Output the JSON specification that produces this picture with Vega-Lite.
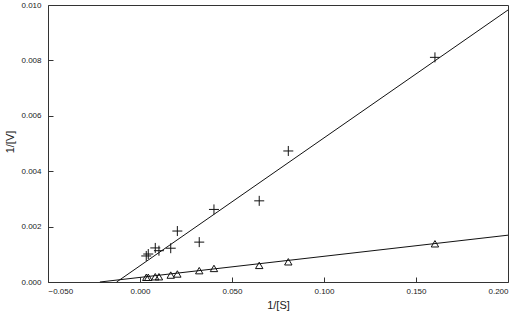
{
  "$schema": "https://vega.github.io/schema/vega-lite/v6.json",
  "width": 460,
  "height": 277,
  "autosize": "none",
  "padding": {"left": 48, "top": 5, "right": 12, "bottom": 33},
  "background": "white",
  "config": {
    "view": {"stroke": "#333", "strokeWidth": 1},
    "font": "Liberation Sans",
    "axis": {
      "grid": false,
      "domain": false,
      "offset": -5,
      "ticks": true,
      "tickColor": "#333",
      "tickWidth": 1,
      "tickSize": 5,
      "zindex": 1,
      "labelColor": "#222",
      "titleColor": "#222",
      "labelFontSize": 8,
      "titleFontSize": 11,
      "titleFontWeight": "normal",
      "labelFont": "Liberation Sans",
      "titleFont": "Liberation Sans"
    }
  },
  "datasets": {
    "plus": [
      {"s": 0.0034, "v": 0.00094},
      {"s": 0.0045, "v": 0.00101},
      {"s": 0.0083, "v": 0.00123},
      {"s": 0.0103, "v": 0.00113},
      {"s": 0.0167, "v": 0.00122},
      {"s": 0.0203, "v": 0.00184},
      {"s": 0.0322, "v": 0.00144},
      {"s": 0.0402, "v": 0.00262},
      {"s": 0.0648, "v": 0.00293},
      {"s": 0.0806, "v": 0.00473},
      {"s": 0.1603, "v": 0.00811}
    ],
    "tri": [
      {"s": 0.0034, "v": 0.00017},
      {"s": 0.0045, "v": 0.00017},
      {"s": 0.0083, "v": 0.00019},
      {"s": 0.0103, "v": 0.00019},
      {"s": 0.0167, "v": 0.00025},
      {"s": 0.0203, "v": 0.00029},
      {"s": 0.0322, "v": 0.00041},
      {"s": 0.0402, "v": 0.00049},
      {"s": 0.0648, "v": 0.0006},
      {"s": 0.0806, "v": 0.00073},
      {"s": 0.1603, "v": 0.00138}
    ],
    "fits": [
      {"series": "a", "s": -0.0127, "v": 0},
      {"series": "a", "s": 0.2, "v": 0.00982},
      {"series": "b", "s": -0.0218, "v": 0},
      {"series": "b", "s": 0.2, "v": 0.00169}
    ]
  },
  "layer": [
    {
      "mark": {"type": "rule", "color": "#333", "strokeWidth": 1},
      "encoding": {"x": {"datum": 0, "type": "quantitative"}}
    },
    {
      "data": {"name": "fits"},
      "mark": {"type": "line", "color": "#111", "strokeWidth": 1},
      "encoding": {
        "x": {"field": "s", "type": "quantitative", "scale": {"domain": [-0.05, 0.2], "nice": false},
          "axis": {"title": "1/[S]", "values": [-0.05, 0, 0.05, 0.1, 0.15, 0.2], "format": ".3f", "labelPadding": 5, "titleBaseline": "middle", "titleY": 28.5}},
        "y": {"field": "v", "type": "quantitative", "scale": {"domain": [0, 0.01], "nice": false},
          "axis": {"title": "1/[V]", "values": [0, 0.002, 0.004, 0.006, 0.008, 0.01], "format": ".3f", "labelPadding": 7, "titleBaseline": "middle", "titleX": -43, "titleY": 136.5}},
        "detail": {"field": "series"}
      }
    },
    {
      "data": {"name": "plus"},
      "mark": {"type": "point", "shape": "M-1,0L1,0M0,-1L0,1", "size": 100, "filled": false, "stroke": "#111", "strokeWidth": 1, "opacity": 1},
      "encoding": {
        "x": {"field": "s", "type": "quantitative"},
        "y": {"field": "v", "type": "quantitative"}
      }
    },
    {
      "data": {"name": "tri"},
      "mark": {"type": "point", "shape": "triangle-up", "size": 55, "filled": false, "stroke": "#111", "strokeWidth": 1, "opacity": 1},
      "encoding": {
        "x": {"field": "s", "type": "quantitative"},
        "y": {"field": "v", "type": "quantitative"}
      }
    }
  ]
}
